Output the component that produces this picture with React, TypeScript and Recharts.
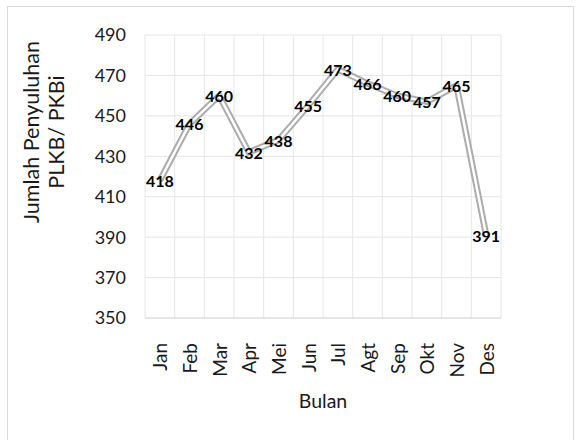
import { LineChart, Line, XAxis, YAxis, CartesianGrid, LabelList } from 'recharts';

const months = ['Jan', 'Feb', 'Mar', 'Apr', 'Mei', 'Jun', 'Jul', 'Agt', 'Sep', 'Okt', 'Nov', 'Des'];
const penyuluhan = [418, 446, 460, 432, 438, 455, 473, 466, 460, 457, 465, 391];
const yTicks = [350, 370, 390, 410, 430, 450, 470, 490];

const data = months.map((bulan, i) => ({ bulan, nilai: penyuluhan[i] }));

const FONT = 'Lato, "Open Sans", sans-serif';
const TEXT = '#1a1a1a';

// vertical grid lines sit on the borders between months, like Excel
const monthBorders = ({ offset }: any) =>
  Array.from({ length: months.length + 1 }, (_, i) => offset.left + (offset.width * i) / months.length);

const MonthTick = (props: any) => {
  const { x, y, payload } = props;
  return (
    <text
      x={x}
      y={y + 17}
      transform={`rotate(-90, ${x}, ${y + 17})`}
      textAnchor="end"
      dominantBaseline="central"
      fontSize={19}
      fontFamily={FONT}
      fill={TEXT}
    >
      {payload.value}
    </text>
  );
};

const YTitle = () => (
  <text
    transform="translate(37, 125) rotate(-90)"
    textAnchor="middle"
    fontSize={21.5}
    fontFamily={FONT}
    fill={TEXT}
  >
    <tspan x={0} dy={-6}>Jumlah Penyuluhan</tspan>
    <tspan x={0} dy={25}>PLKB/ PKBi</tspan>
  </text>
);

const ValueLabel = (props: any) => {
  const { x, y, value } = props;
  return (
    <text
      x={x}
      y={y}
      textAnchor="middle"
      dominantBaseline="central"
      fontSize={16}
      fontWeight="bold"
      fontFamily={FONT}
      fill="#000"
    >
      {value}
    </text>
  );
};

export default function App() {
  return (
    <div
      style={{
        position: 'absolute',
        left: 7,
        top: 6,
        width: 565,
        height: 440,
        border: '1px solid #d9d9d9',
        background: '#fff',
      }}
    >
      <LineChart
        width={565}
        height={440}
        data={data}
        margin={{ top: 28, right: 72, bottom: 29, left: 0 }}
      >
        <CartesianGrid stroke="#e6e6e6" verticalCoordinatesGenerator={monthBorders} />
        <XAxis
          dataKey="bulan"
          scale="band"
          height={100}
          interval={0}
          tickLine={false}
          axisLine={{ stroke: '#d9d9d9' }}
          tick={<MonthTick />}
          label={{
            value: 'Bulan',
            position: 'insideBottom',
            offset: 10,
            fontSize: 19.5,
            fontFamily: FONT,
            fill: TEXT,
          }}
        />
        <YAxis
          width={137}
          domain={[350, 490]}
          ticks={yTicks}
          interval={0}
          tickLine={false}
          axisLine={false}
          tickSize={0}
          tickMargin={19}
          tick={{ fontSize: 18, fontFamily: FONT, fill: TEXT }}
          label={<YTitle />}
        />
        <Line
          dataKey="nilai"
          stroke="#acacac"
          strokeWidth={6.5}
          strokeLinejoin="miter"
          dot={false}
          isAnimationActive={false}
        />
        <Line
          dataKey="nilai"
          stroke="#ffffff"
          strokeWidth={2.5}
          strokeLinejoin="miter"
          dot={false}
          isAnimationActive={false}
        >
          <LabelList dataKey="nilai" content={<ValueLabel />} />
        </Line>
      </LineChart>
    </div>
  );
}
